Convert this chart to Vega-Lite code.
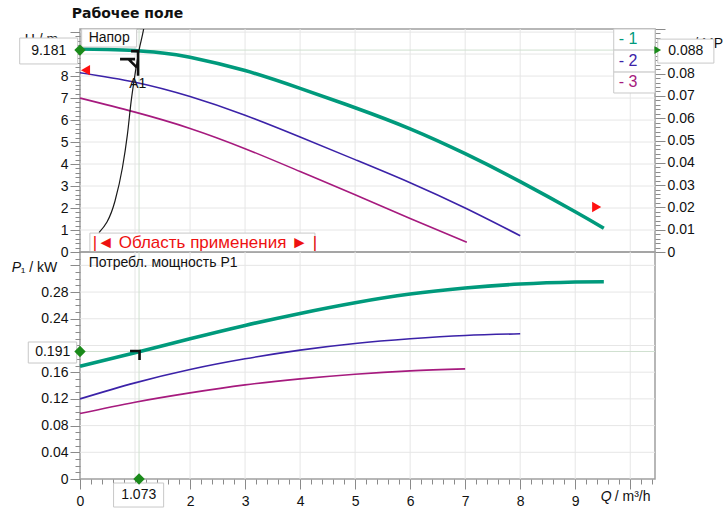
{
  "$schema": "https://vega.github.io/schema/vega-lite/v6.json",
  "padding": {"left": 10, "top": 6, "right": 0, "bottom": 0},
  "config": {
    "font": "Liberation Sans",
    "view": {"stroke": "#a0a0a0", "strokeWidth": 1.5},
    "axis": {"domain": false, "grid": false, "tickColor": "#8a8a8a", "tickWidth": 1, "labelFont": "Liberation Sans", "labelFontSize": 14, "labelColor": "#111111", "labelOverlap": false, "labelFlush": false}
  },
  "datasets": {
    "hc": [
      {"q": 0, "h": 9.23, "c": "1"}, {"q": 0.5, "h": 9.21, "c": "1"}, {"q": 1, "h": 9.16, "c": "1"}, {"q": 1.5, "h": 9.05, "c": "1"}, {"q": 2, "h": 8.86, "c": "1"}, {"q": 3, "h": 8.25, "c": "1"}, {"q": 4, "h": 7.44, "c": "1"}, {"q": 5, "h": 6.56, "c": "1"}, {"q": 6, "h": 5.6, "c": "1"}, {"q": 7, "h": 4.47, "c": "1"}, {"q": 8, "h": 3.2, "c": "1"}, {"q": 9, "h": 1.83, "c": "1"}, {"q": 9.52, "h": 1.08, "c": "1"},
      {"q": 0, "h": 8.15, "c": "2"}, {"q": 1, "h": 7.72, "c": "2"}, {"q": 2, "h": 7.07, "c": "2"}, {"q": 3, "h": 6.22, "c": "2"}, {"q": 4, "h": 5.23, "c": "2"}, {"q": 5, "h": 4.2, "c": "2"}, {"q": 6, "h": 3.15, "c": "2"}, {"q": 7, "h": 2.0, "c": "2"}, {"q": 8, "h": 0.74, "c": "2"},
      {"q": 0, "h": 7.0, "c": "3"}, {"q": 1, "h": 6.36, "c": "3"}, {"q": 2, "h": 5.62, "c": "3"}, {"q": 3, "h": 4.7, "c": "3"}, {"q": 4, "h": 3.66, "c": "3"}, {"q": 5, "h": 2.6, "c": "3"}, {"q": 6, "h": 1.52, "c": "3"}, {"q": 7.03, "h": 0.44, "c": "3"}
    ],
    "pc": [
      {"q": 0, "p": 0.169, "c": "1"}, {"q": 1, "p": 0.189, "c": "1"}, {"q": 2, "p": 0.21, "c": "1"}, {"q": 3, "p": 0.23, "c": "1"}, {"q": 4, "p": 0.248, "c": "1"}, {"q": 5, "p": 0.264, "c": "1"}, {"q": 6, "p": 0.277, "c": "1"}, {"q": 7, "p": 0.286, "c": "1"}, {"q": 8, "p": 0.292, "c": "1"}, {"q": 9, "p": 0.295, "c": "1"}, {"q": 9.52, "p": 0.2955, "c": "1"},
      {"q": 0, "p": 0.12, "c": "2"}, {"q": 1, "p": 0.144, "c": "2"}, {"q": 2, "p": 0.164, "c": "2"}, {"q": 3, "p": 0.18, "c": "2"}, {"q": 4, "p": 0.193, "c": "2"}, {"q": 5, "p": 0.203, "c": "2"}, {"q": 6, "p": 0.21, "c": "2"}, {"q": 7, "p": 0.215, "c": "2"}, {"q": 8, "p": 0.2175, "c": "2"},
      {"q": 0, "p": 0.098, "c": "3"}, {"q": 1, "p": 0.115, "c": "3"}, {"q": 2, "p": 0.129, "c": "3"}, {"q": 3, "p": 0.141, "c": "3"}, {"q": 4, "p": 0.15, "c": "3"}, {"q": 5, "p": 0.157, "c": "3"}, {"q": 6, "p": 0.162, "c": "3"}, {"q": 7, "p": 0.165, "c": "3"}
    ],
    "sys": [
      {"q": 0.345, "h": 0.88}, {"q": 0.636, "h": 2.32}, {"q": 0.771, "h": 3.83}, {"q": 0.862, "h": 5.35}, {"q": 0.93, "h": 6.86}, {"q": 1.0, "h": 8.08}, {"q": 1.073, "h": 9.181}, {"q": 1.15, "h": 10.05}, {"q": 1.2, "h": 10.8}
    ],
    "gx": [{"q": 1}, {"q": 2}, {"q": 3}, {"q": 4}, {"q": 5}, {"q": 6}, {"q": 7}, {"q": 8}, {"q": 9}, {"q": 10}],
    "gh": [{"h": 1}, {"h": 2}, {"h": 3}, {"h": 4}, {"h": 5}, {"h": 6}, {"h": 7}, {"h": 8}, {"h": 9}, {"h": 10}],
    "gp": [{"p": 0.04}, {"p": 0.08}, {"p": 0.12}, {"p": 0.16}, {"p": 0.2}, {"p": 0.24}, {"p": 0.28}, {"p": 0.32}]
  },
  "vconcat": [
    {
      "width": 575,
      "height": 223,
      "resolve": {"scale": {"y": "independent"}},
      "layer": [
        {
          "resolve": {"axis": {"x": "independent", "y": "independent"}},
          "layer": [
            {
              "data": {"name": "gx"},
              "mark": {"type": "rule", "color": "#e6e6e6", "strokeWidth": 1},
              "encoding": {"x": {"field": "q", "type": "quantitative", "scale": {"domain": [0, 10.45]}, "axis": null}}
            },
            {
              "data": {"name": "gh"},
              "mark": {"type": "rule", "color": "#e6e6e6", "strokeWidth": 1},
              "encoding": {"y": {"field": "h", "type": "quantitative", "scale": {"domain": [0, 10.14]}, "axis": null}}
            },
            {
              "data": {"values": [{"q": 0, "q2": 10.45, "h": 9.181}]},
              "mark": {"type": "rule", "color": "#cfe0cf", "strokeWidth": 1},
              "encoding": {
                "x": {"field": "q", "type": "quantitative", "scale": {"domain": [0, 10.45]}, "axis": null},
                "x2": {"field": "q2"},
                "y": {"field": "h", "type": "quantitative", "scale": {"domain": [0, 10.14]}, "axis": null}
              }
            },
            {
              "data": {"values": [{"q": 1.073}]},
              "mark": {"type": "rule", "color": "#cfe0cf", "strokeWidth": 1},
              "encoding": {"x": {"field": "q", "type": "quantitative", "scale": {"domain": [0, 10.45]}, "axis": null}}
            },
            {
              "data": {"name": "hc"},
              "mark": {"type": "line", "interpolate": "natural"},
              "encoding": {
                "x": {"field": "q", "type": "quantitative", "scale": {"domain": [0, 10.45]}, "axis": null},
                "y": {"field": "h", "type": "quantitative", "scale": {"domain": [0, 10.14]},
                  "axis": {
                    "orient": "left", "title": null, "grid": false, "domain": false,
                    "labelOverlap": false, "labelBound": false, "labelFlush": false,
                    "values": [0,0.2,0.4,0.6,0.8,1,1.2,1.4,1.6,1.8,2,2.2,2.4,2.6,2.8,3,3.2,3.4,3.6,3.8,4,4.2,4.4,4.6,4.8,5,5.2,5.4,5.6,5.8,6,6.2,6.4,6.6,6.8,7,7.2,7.4,7.6,7.8,8,8.2,8.4,8.6,8.8,9,9.2,9.4,9.6,9.8,10],
                    "labelExpr": "abs(datum.value - round(datum.value)) < 0.001 && datum.value < 9.5 ? format(datum.value, 'd') : ''",
                    "tickSize": {"condition": {"test": "abs(datum.value - round(datum.value)) < 0.001", "value": 10}, "value": 5},
                    "labelPadding": 2
                  }
                },
                "color": {"field": "c", "type": "nominal", "scale": {"domain": ["1", "2", "3"], "range": ["#009a7c", "#3b22a8", "#a61a7e"]}, "legend": null},
                "strokeWidth": {"condition": {"test": "datum.c == '1'", "value": 3.6}, "value": 1.6}
              }
            },
            {
              "data": {"name": "sys"},
              "mark": {"type": "line", "interpolate": "monotone", "clip": true, "color": "#1a1a1a", "strokeWidth": 1.2},
              "encoding": {
                "x": {"field": "q", "type": "quantitative", "scale": {"domain": [0, 10.45]}, "axis": null},
                "y": {"field": "h", "type": "quantitative", "scale": {"domain": [0, 10.14]}, "axis": null}
              }
            },
            {
              "data": {"values": [{"q": 0.1, "h": 8.27}]},
              "mark": {"type": "point", "shape": "triangle-left", "filled": true, "color": "#ff1010", "opacity": 1, "size": 110},
              "encoding": {
                "x": {"field": "q", "type": "quantitative", "scale": {"domain": [0, 10.45]}, "axis": null},
                "y": {"field": "h", "type": "quantitative", "scale": {"domain": [0, 10.14]}, "axis": null}
              }
            },
            {
              "data": {"values": [{"q": 9.39, "h": 2.05}]},
              "mark": {"type": "point", "shape": "triangle-right", "filled": true, "color": "#ff1010", "opacity": 1, "size": 110},
              "encoding": {
                "x": {"field": "q", "type": "quantitative", "scale": {"domain": [0, 10.45]}, "axis": null},
                "y": {"field": "h", "type": "quantitative", "scale": {"domain": [0, 10.14]}, "axis": null}
              }
            },
            {
              "data": {"values": [{"q": 1.073, "h": 9.181}]},
              "mark": {"type": "point", "shape": "M-0.8,0.1L0,0.1M-0.1,0.1L-0.1,2.56M-1.9,0.9L-0.4,0.9M-1.06,0.9L-0.23,1.73", "filled": false, "color": "#111111", "opacity": 1, "size": 400, "strokeWidth": 2.6},
              "encoding": {
                "x": {"field": "q", "type": "quantitative", "scale": {"domain": [0, 10.45]}, "axis": null},
                "y": {"field": "h", "type": "quantitative", "scale": {"domain": [0, 10.14]}, "axis": null}
              }
            },
            {
              "data": {"values": [{"q": 1.05, "h": 7.64, "t": "A1"}]},
              "mark": {"type": "text", "fontSize": 14, "color": "#111111", "align": "center", "baseline": "middle"},
              "encoding": {
                "x": {"field": "q", "type": "quantitative", "scale": {"domain": [0, 10.45]}, "axis": null},
                "y": {"field": "h", "type": "quantitative", "scale": {"domain": [0, 10.14]}, "axis": null},
                "text": {"field": "t"}
              }
            },
            {
              "data": {"values": [{"q": -0.7, "h": 9.64, "t": "H / m"}]},
              "mark": {"type": "text", "fontSize": 14, "color": "#111111", "align": "center", "baseline": "middle"},
              "encoding": {
                "x": {"field": "q", "type": "quantitative", "scale": {"domain": [0, 10.45]}, "axis": null},
                "y": {"field": "h", "type": "quantitative", "scale": {"domain": [0, 10.14]}, "axis": null},
                "text": {"field": "t"}
              }
            },
            {
              "data": {"values": [{"q": 10.95, "h": 9.45, "t": "p / MPa"}]},
              "mark": {"type": "text", "fontSize": 14, "color": "#111111", "align": "left", "baseline": "middle"},
              "encoding": {
                "x": {"field": "q", "type": "quantitative", "scale": {"domain": [0, 10.45]}, "axis": null},
                "y": {"field": "h", "type": "quantitative", "scale": {"domain": [0, 10.14]}, "axis": null},
                "text": {"field": "t"}
              }
            },
            {
              "data": {"values": [
                {"q": 0.03, "q2": 1.03, "h": 9.32, "h2": 10.14},
                {"q": 0.18, "q2": 4.27, "h": 0, "h2": 0.86},
                {"q": 9.7, "q2": 10.45, "h": 9.18, "h2": 10.14},
                {"q": 9.7, "q2": 10.45, "h": 8.18, "h2": 9.18},
                {"q": 9.7, "q2": 10.45, "h": 7.23, "h2": 8.18},
                {"q": -1.096, "q2": -0.042, "h": 8.55, "h2": 9.73},
                {"q": 10.5, "q2": 11.52, "h": 8.59, "h2": 9.68}
              ]},
              "mark": {"type": "rect", "fill": "#ffffff", "stroke": "#c8c8c8", "strokeWidth": 1},
              "encoding": {
                "x": {"field": "q", "type": "quantitative", "scale": {"domain": [0, 10.45]}, "axis": null},
                "x2": {"field": "q2"},
                "y": {"field": "h", "type": "quantitative", "scale": {"domain": [0, 10.14]}, "axis": null},
                "y2": {"field": "h2"}
              }
            },
            {
              "data": {"values": [{"q": 0, "h": 9.181}]},
              "mark": {"type": "point", "shape": "diamond", "filled": true, "color": "#1a8a1a", "opacity": 1, "size": 130},
              "encoding": {
                "x": {"field": "q", "type": "quantitative", "scale": {"domain": [0, 10.45]}, "axis": null},
                "y": {"field": "h", "type": "quantitative", "scale": {"domain": [0, 10.14]}, "axis": null}
              }
            },
            {
              "data": {"values": [{"q": 10.5, "h": 9.181}]},
              "mark": {"type": "point", "shape": "triangle-right", "filled": true, "color": "#1a8a1a", "opacity": 1, "size": 60},
              "encoding": {
                "x": {"field": "q", "type": "quantitative", "scale": {"domain": [0, 10.45]}, "axis": null},
                "y": {"field": "h", "type": "quantitative", "scale": {"domain": [0, 10.14]}, "axis": null}
              }
            },
            {
              "data": {"values": [
                {"q": 0.53, "h": 9.73, "t": "Напор"},
                {"q": -0.569, "h": 9.14, "t": "9.181"},
                {"q": 11.01, "h": 9.14, "t": "0.088"}
              ]},
              "mark": {"type": "text", "fontSize": 14, "color": "#111111", "align": "center", "baseline": "middle"},
              "encoding": {
                "x": {"field": "q", "type": "quantitative", "scale": {"domain": [0, 10.45]}, "axis": null},
                "y": {"field": "h", "type": "quantitative", "scale": {"domain": [0, 10.14]}, "axis": null},
                "text": {"field": "t"}
              }
            },
            {
              "data": {"values": [
                {"q": 9.79, "h": 9.68, "c": "1", "t": "- 1"},
                {"q": 9.79, "h": 8.68, "c": "2", "t": "- 2"},
                {"q": 9.79, "h": 7.72, "c": "3", "t": "- 3"}
              ]},
              "mark": {"type": "text", "fontSize": 16, "align": "left", "baseline": "middle"},
              "encoding": {
                "x": {"field": "q", "type": "quantitative", "scale": {"domain": [0, 10.45]}, "axis": null},
                "y": {"field": "h", "type": "quantitative", "scale": {"domain": [0, 10.14]}, "axis": null},
                "color": {"field": "c", "type": "nominal", "scale": {"domain": ["1", "2", "3"], "range": ["#009a7c", "#3b22a8", "#a61a7e"]}, "legend": null},
                "text": {"field": "t"}
              }
            },
            {
              "data": {"values": [{"q": 2.27, "h": 0.42, "t": "|◄ Область применения ► |"}]},
              "mark": {"type": "text", "fontSize": 17, "color": "#ee1111", "align": "center", "baseline": "middle"},
              "encoding": {
                "x": {"field": "q", "type": "quantitative", "scale": {"domain": [0, 10.45]}, "axis": null},
                "y": {"field": "h", "type": "quantitative", "scale": {"domain": [0, 10.14]}, "axis": null},
                "text": {"field": "t"}
              }
            },
            {
              "data": {"values": [{"q": -0.151, "h": 10.82, "t": "Рабочее поле"}]},
              "mark": {"type": "text", "font": "DejaVu Sans", "fontSize": 14, "fontWeight": "bold", "color": "#111111", "align": "left", "baseline": "middle"},
              "encoding": {
                "x": {"field": "q", "type": "quantitative", "scale": {"domain": [0, 10.45]}, "axis": null},
                "y": {"field": "h", "type": "quantitative", "scale": {"domain": [0, 10.14]}, "axis": null},
                "text": {"field": "t"}
              }
            }
          ]
        },
        {
          "data": {"values": [{"m": 0}, {"m": 0.1}]},
          "mark": {"type": "point", "opacity": 0},
          "encoding": {
            "y": {"field": "m", "type": "quantitative", "scale": {"domain": [0, 0.1]},
              "axis": {
                "orient": "right", "title": null, "labelOverlap": false, "labelBound": false, "labelFlush": false,
                "values": [0,0.002,0.004,0.006,0.008,0.01,0.012,0.014,0.016,0.018,0.02,0.022,0.024,0.026,0.028,0.03,0.032,0.034,0.036,0.038,0.04,0.042,0.044,0.046,0.048,0.05,0.052,0.054,0.056,0.058,0.06,0.062,0.064,0.066,0.068,0.07,0.072,0.074,0.076,0.078,0.08,0.082,0.084,0.086,0.088,0.09,0.092,0.094,0.096,0.098,0.1],
                "labelExpr": "abs(datum.value*100 - round(datum.value*100)) < 0.001 && datum.value < 0.085 ? (datum.value == 0 ? '0' : format(datum.value, '.2f')) : ''",
                "tickSize": {"condition": {"test": "abs(datum.value*100 - round(datum.value*100)) < 0.001", "value": 10}, "value": 5},
                "labelPadding": 2
              }
            }
          }
        }
      ]
    },
    {
      "width": 575,
      "height": 227,
      "resolve": {"axis": {"x": "independent", "y": "independent"}},
      "layer": [
        {
          "data": {"name": "gx"},
          "mark": {"type": "rule", "color": "#e6e6e6", "strokeWidth": 1},
          "encoding": {"x": {"field": "q", "type": "quantitative", "scale": {"domain": [0, 10.45]}, "axis": null}}
        },
        {
          "data": {"name": "gp"},
          "mark": {"type": "rule", "color": "#e6e6e6", "strokeWidth": 1},
          "encoding": {"y": {"field": "p", "type": "quantitative", "scale": {"domain": [0, 0.34]}, "axis": null}}
        },
        {
          "data": {"values": [{"q": 0, "q2": 10.45, "p": 0.191}]},
          "mark": {"type": "rule", "color": "#cfe0cf", "strokeWidth": 1},
          "encoding": {
            "x": {"field": "q", "type": "quantitative", "scale": {"domain": [0, 10.45]}, "axis": null},
            "x2": {"field": "q2"},
            "y": {"field": "p", "type": "quantitative", "scale": {"domain": [0, 0.34]}, "axis": null}
          }
        },
        {
          "data": {"values": [{"q": 1.073}]},
          "mark": {"type": "rule", "color": "#cfe0cf", "strokeWidth": 1},
          "encoding": {"x": {"field": "q", "type": "quantitative", "scale": {"domain": [0, 10.45]}, "axis": null}}
        },
        {
          "data": {"name": "pc"},
          "mark": {"type": "line", "interpolate": "natural"},
          "encoding": {
            "x": {"field": "q", "type": "quantitative", "scale": {"domain": [0, 10.45]},
              "axis": {
                "orient": "bottom", "title": null, "grid": false, "domain": false,
                "labelOverlap": false, "labelBound": false, "labelFlush": false,
                "values": [0,0.2,0.4,0.6,0.8,1,1.2,1.4,1.6,1.8,2,2.2,2.4,2.6,2.8,3,3.2,3.4,3.6,3.8,4,4.2,4.4,4.6,4.8,5,5.2,5.4,5.6,5.8,6,6.2,6.4,6.6,6.8,7,7.2,7.4,7.6,7.8,8,8.2,8.4,8.6,8.8,9,9.2,9.4,9.6,9.8,10,10.2,10.4],
                "labelExpr": "abs(datum.value - round(datum.value)) < 0.001 && datum.value < 9.5 ? format(datum.value, 'd') : ''",
                "tickSize": {"condition": {"test": "abs(datum.value - round(datum.value)) < 0.001", "value": 10}, "value": 5},
                "labelPadding": 5
              }
            },
            "y": {"field": "p", "type": "quantitative", "scale": {"domain": [0, 0.34]},
              "axis": {
                "orient": "left", "title": null, "grid": false, "domain": false,
                "labelOverlap": false, "labelBound": false, "labelFlush": false,
                "values": [0,0.01,0.02,0.03,0.04,0.05,0.06,0.07,0.08,0.09,0.1,0.11,0.12,0.13,0.14,0.15,0.16,0.17,0.18,0.19,0.2,0.21,0.22,0.23,0.24,0.25,0.26,0.27,0.28,0.29,0.3,0.31,0.32,0.33,0.34],
                "labelExpr": "abs(datum.value*25 - round(datum.value*25)) < 0.001 && datum.value < 0.3 && abs(datum.value - 0.2) > 0.001 ? (datum.value == 0 ? '0' : format(datum.value, '.2f')) : ''",
                "tickSize": {"condition": {"test": "abs(datum.value*25 - round(datum.value*25)) < 0.001", "value": 10}, "value": 5},
                "labelPadding": 2
              }
            },
            "color": {"field": "c", "type": "nominal", "scale": {"domain": ["1", "2", "3"], "range": ["#009a7c", "#3b22a8", "#a61a7e"]}, "legend": null},
            "strokeWidth": {"condition": {"test": "datum.c == '1'", "value": 3.6}, "value": 1.6}
          }
        },
        {
          "data": {"values": [{"q": 1.073, "p": 0.191}]},
          "mark": {"type": "point", "shape": "M-0.9,-0.05L0.05,-0.05L0.05,0.85", "filled": false, "color": "#111111", "opacity": 1, "size": 400, "strokeWidth": 2.6},
          "encoding": {
            "x": {"field": "q", "type": "quantitative", "scale": {"domain": [0, 10.45]}, "axis": null},
            "y": {"field": "p", "type": "quantitative", "scale": {"domain": [0, 0.34]}, "axis": null}
          }
        },
        {
          "data": {"values": [
            {"q": -0.94, "q2": -0.06, "p": 0.1737, "p2": 0.2052},
            {"q": 0.61, "q2": 1.52, "p": -0.042, "p2": -0.006}
          ]},
          "mark": {"type": "rect", "fill": "#ffffff", "stroke": "#c8c8c8", "strokeWidth": 1},
          "encoding": {
            "x": {"field": "q", "type": "quantitative", "scale": {"domain": [0, 10.45]}, "axis": null},
            "x2": {"field": "q2"},
            "y": {"field": "p", "type": "quantitative", "scale": {"domain": [0, 0.34]}, "axis": null},
            "y2": {"field": "p2"}
          }
        },
        {
          "data": {"values": [{"q": 0, "p": 0.191}, {"q": 1.073, "p": 0}]},
          "mark": {"type": "point", "shape": "diamond", "filled": true, "color": "#1a8a1a", "opacity": 1, "size": 130},
          "encoding": {
            "x": {"field": "q", "type": "quantitative", "scale": {"domain": [0, 10.45]}, "axis": null},
            "y": {"field": "p", "type": "quantitative", "scale": {"domain": [0, 0.34]}, "axis": null}
          }
        },
        {
          "data": {"values": [
            {"q": -0.496, "p": 0.1895, "t": "0.191"},
            {"q": 1.067, "p": -0.024, "t": "1.073"}
          ]},
          "mark": {"type": "text", "fontSize": 14, "color": "#111111", "align": "center", "baseline": "middle"},
          "encoding": {
            "x": {"field": "q", "type": "quantitative", "scale": {"domain": [0, 10.45]}, "axis": null},
            "y": {"field": "p", "type": "quantitative", "scale": {"domain": [0, 0.34]}, "axis": null},
            "text": {"field": "t"}
          }
        },
        {
          "data": {"values": [
            {"q": 0.158, "p": 0.3235, "t": "Потребл. мощность P1"},
            {"q": -1.078, "p": 0.316, "t": "₁ / kW"},
            {"q": 9.718, "p": -0.027, "t": "/ m³/h"}
          ]},
          "mark": {"type": "text", "fontSize": 14, "color": "#111111", "align": "left", "baseline": "middle"},
          "encoding": {
            "x": {"field": "q", "type": "quantitative", "scale": {"domain": [0, 10.45]}, "axis": null},
            "y": {"field": "p", "type": "quantitative", "scale": {"domain": [0, 0.34]}, "axis": null},
            "text": {"field": "t"}
          }
        },
        {
          "data": {"values": [{"q": 9.464, "p": -0.027, "t": "Q"}, {"q": -1.241, "p": 0.316, "t": "P"}]},
          "mark": {"type": "text", "fontSize": 14, "fontStyle": "italic", "color": "#111111", "align": "left", "baseline": "middle"},
          "encoding": {
            "x": {"field": "q", "type": "quantitative", "scale": {"domain": [0, 10.45]}, "axis": null},
            "y": {"field": "p", "type": "quantitative", "scale": {"domain": [0, 0.34]}, "axis": null},
            "text": {"field": "t"}
          }
        }
      ]
    }
  ],
  "spacing": 0,
  "bounds": "flush",
  "resolve": {"scale": {"x": "independent", "y": "independent"}}
}
